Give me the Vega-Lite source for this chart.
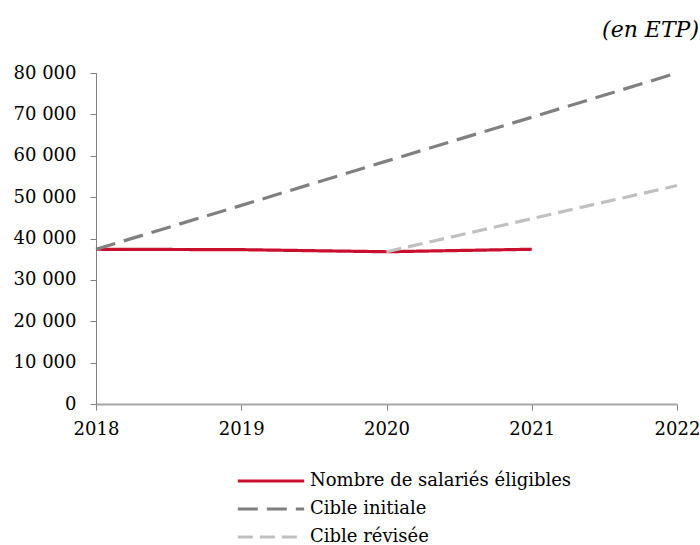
{
  "$schema": "https://vega.github.io/schema/vega-lite/v6.json",
  "width": 581,
  "height": 331,
  "autosize": "none",
  "padding": {"left": 96, "top": 73, "right": 23, "bottom": 141},
  "config": {
    "view": {"stroke": null},
    "font": "DejaVu Serif",
    "locale": {"number": {"decimal": ",", "thousands": " ", "grouping": [3], "currency": ["", " €"]}}
  },
  "title": {
    "text": "(en ETP)",
    "anchor": "end",
    "frame": "group",
    "fontStyle": "italic",
    "fontWeight": "normal",
    "fontSize": 22,
    "font": "DejaVu Serif",
    "color": "#000",
    "dx": 22,
    "offset": 22
  },
  "data": {
    "values": [
      {"annee": 2018, "valeur": 37400, "serie": "Nombre de salariés éligibles"},
      {"annee": 2019, "valeur": 37300, "serie": "Nombre de salariés éligibles"},
      {"annee": 2020, "valeur": 36800, "serie": "Nombre de salariés éligibles"},
      {"annee": 2021, "valeur": 37400, "serie": "Nombre de salariés éligibles"},
      {"annee": 2018, "valeur": 37400, "serie": "Cible initiale"},
      {"annee": 2019, "valeur": 48000, "serie": "Cible initiale"},
      {"annee": 2020, "valeur": 58700, "serie": "Cible initiale"},
      {"annee": 2021, "valeur": 69300, "serie": "Cible initiale"},
      {"annee": 2022, "valeur": 80000, "serie": "Cible initiale"},
      {"annee": 2020, "valeur": 36800, "serie": "Cible révisée"},
      {"annee": 2021, "valeur": 44800, "serie": "Cible révisée"},
      {"annee": 2022, "valeur": 52800, "serie": "Cible révisée"}
    ]
  },
  "mark": {"type": "line", "strokeWidth": 3.2},
  "encoding": {
    "x": {
      "field": "annee",
      "type": "quantitative",
      "scale": {"domain": [2018, 2022], "nice": false, "zero": false},
      "axis": {
        "title": null,
        "values": [2018, 2019, 2020, 2021, 2022],
        "format": "d",
        "grid": false,
        "labelFontSize": 18,
        "labelColor": "#000",
        "labelPadding": 10,
        "domainColor": "#a6a6a6",
        "domainWidth": 2,
        "tickColor": "#808080",
        "tickSize": 6,
        "labelFlush": false
      }
    },
    "y": {
      "field": "valeur",
      "type": "quantitative",
      "scale": {"domain": [0, 80000], "nice": false},
      "axis": {
        "title": null,
        "values": [0, 10000, 20000, 30000, 40000, 50000, 60000, 70000, 80000],
        "format": ",d",
        "grid": false,
        "labelFontSize": 18,
        "labelColor": "#000",
        "labelPadding": 14,
        "domainColor": "#808080",
        "tickColor": "#808080",
        "tickSize": 6
      }
    },
    "color": {
      "field": "serie",
      "type": "nominal",
      "scale": {
        "domain": ["Nombre de salariés éligibles", "Cible initiale", "Cible révisée"],
        "range": ["#c8102e", "#808080", "#c0c0c0"]
      },
      "legend": {
        "title": null,
        "orient": "none",
        "legendX": 140,
        "legendY": 394,
        "symbolType": "stroke",
        "symbolStrokeWidth": 3,
        "symbolSize": 4400,
        "labelFontSize": 18,
        "labelLimit": 0,
        "labelColor": "#000",
        "labelOffset": 4,
        "rowPadding": 0,
        "clipHeight": 28
      }
    },
    "strokeDash": {
      "field": "serie",
      "type": "nominal",
      "scale": {
        "domain": ["Nombre de salariés éligibles", "Cible initiale", "Cible révisée"],
        "range": [[1, 0], [20, 9], [15, 7]]
      },
      "legend": null
    }
  }
}
